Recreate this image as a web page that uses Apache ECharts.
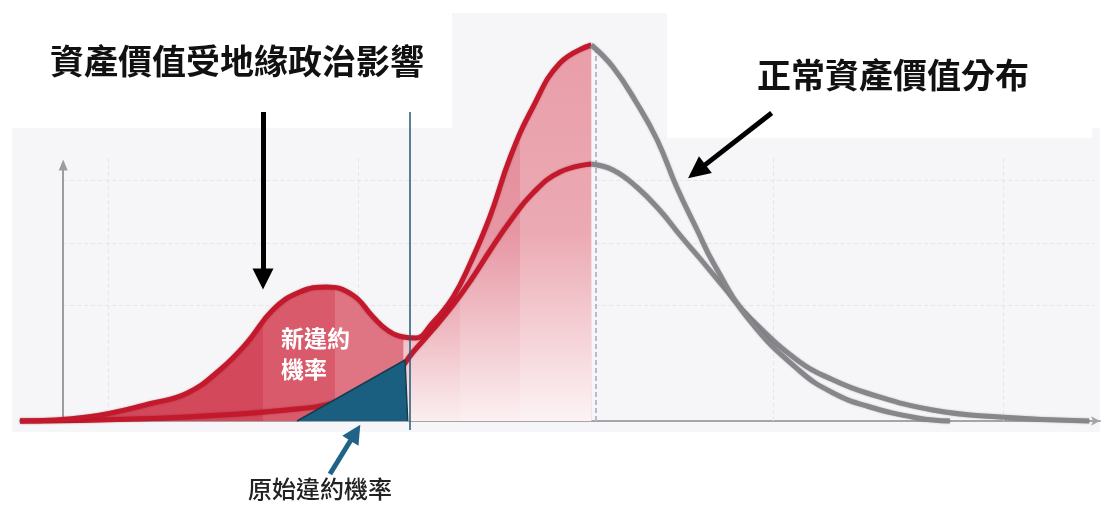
<!DOCTYPE html>
<html>
<head>
<meta charset="utf-8">
<script src="https://cdn.jsdelivr.net/npm/echarts@6/dist/echarts.min.js"></script>
<style>
  html, body { margin: 0; background: #fff; }
  #chart { width: 1107px; height: 514px; }
</style>
</head>
<body>
<div id="chart"></div>
<script>
/* 資產價值分布示意圖 — 受地緣政治衝擊(雙峰) vs 正常分布 */

// 受衝擊後分布：峰值左側(紅)、右側(灰)
const stressedRise = [[-4, 0], [2.2, 1], [8.3, 4.5], [11.5, 7], [14.5, 12.75], [17, 19.5], [19.4, 27.75],
  [21.9, 32.25], [24.4, 33.5], [26.8, 31.5], [28.7, 26], [30, 22.75], [31.5, 21], [32.6, 20.75],
  [34.2, 24.5], [36.1, 31], [37.7, 39.5], [39.5, 51], [41.4, 66], [43.5, 78.5], [46, 89.5], [48.9, 94]];
const stressedFall = [[48.9, 94], [50.9, 88.5], [53.1, 79.5], [55, 70.25], [56.8, 58.5], [58.7, 47.75],
  [60.2, 39.5], [63.6, 25], [68.2, 12.5], [71.3, 7], [74.4, 3.75], [79.1, 0.75], [82.1, 0]];

// 正常資產價值分布
const normalRise = [[-4, 0], [3.4, 0.25], [11.5, 1], [20.7, 2.75], [25.4, 4.75], [30, 9.5], [32.4, 17.25],
  [34.2, 22.75], [36.1, 29], [37.7, 35], [39.5, 42.5], [41.4, 50], [43.5, 57], [46, 62.25], [48.9, 64.25]];
const normalFall = [[48.9, 64.25], [50.9, 62.75], [53.1, 58.5], [55.3, 52.5], [57.1, 46.5], [59, 40.5],
  [61.3, 33], [63.6, 25.75], [68.2, 14.75], [71.3, 10.25], [74.4, 7], [80.5, 2.75], [86.7, 1], [95, 0]];

// 原始違約機率 (藍色三角)
const originalDefault = [[21.65, 0], [31.65, 15.25], [31.9, 0]];

// 格線位置 / 標註線
const gridYs = [29, 44.5, 60.25];
const gridXs = [4.15, 27.3, 65.7, 87];
const gridTop = 66.5;
const peakX = 49.3;
const thresholdX = 32.1;
const yAxisArrow = [[0, 0], [0, 64]];
const shockArrow = [[18.5, 77.25], [18.5, 35.5]];
const normalArrow = [[65.6, 77], [58.66, 62.4]];
const originalArrow = [[24.7, -13.25], [27.05, -2.93]];

// 填色分段 (x 位置) 與顏色
const bandEdges = [18.5, 25.2, 32.1, 36.7, 42.3];
const bandColors = ['#d3485a', '#d85a6b', '#df7483', '#de7482', '#e38896', '#e99ea9'];

const chart = echarts.init(document.getElementById('chart'), null, { renderer: 'canvas' });

const xMin = -4, xMax = 96;
const fillStart = stressedRise[0][0], fillEnd = stressedRise[stressedRise.length - 1][0];
const stops = [];
bandColors.forEach((c, i) => {
  const a = i === 0 ? 0 : (bandEdges[i - 1] - fillStart) / (fillEnd - fillStart);
  const b = i === bandColors.length - 1 ? 1 : (bandEdges[i] - fillStart) / (fillEnd - fillStart);
  stops.push({ offset: a, color: c }, { offset: b, color: c });
});

const seg = (p, q, style, sym, size) => [
  { coord: p, symbol: 'none', lineStyle: style },
  { coord: q, symbol: sym || 'none', symbolSize: size || 0 }
];

const gridStyle = { color: '#e6e6ea', width: 1, type: [4, 3] };
const gridLines = [
  ...gridYs.map(y => seg([0, y], [95.5, y], gridStyle)),
  ...gridXs.map(x => seg([x, 0], [x, gridTop], gridStyle)),
  seg(yAxisArrow[0], yAxisArrow[1], { color: '#9c9ca2', width: 2, type: 'solid' }, 'triangle', [9, 11])
];

const redLine = { color: '#c4182c', width: 5, shadowColor: 'rgba(90,0,10,0.35)', shadowBlur: 2 };
const grayLine = { color: '#86868b', width: 5, shadowColor: 'rgba(40,40,40,0.3)', shadowBlur: 2 };
const SM = 0.45;

const option = {
  animation: false,
  grid: { left: 20, right: 7, top: 21, bottom: 33 },
  xAxis: {
    type: 'value', min: xMin, max: xMax,
    axisLine: { show: true, onZero: true, symbol: ['none', 'arrow'], symbolSize: [7, 9],
      lineStyle: { color: '#a4a4aa', width: 2 } },
    axisTick: { show: false }, axisLabel: { show: false }, splitLine: { show: false }
  },
  yAxis: {
    type: 'value', min: -15, max: 100,
    axisLine: { show: false }, axisTick: { show: false }, axisLabel: { show: false }, splitLine: { show: false }
  },
  graphic: [
    { type: 'rect', z: -10, shape: { x: 12, y: 128, width: 1088, height: 304 }, style: { fill: '#f6f6f8' } },
    { type: 'rect', z: -10, shape: { x: 452, y: 13, width: 215, height: 115 }, style: { fill: '#f6f6f8' } },
    { type: 'rect', z: -9, shape: { x: 667, y: 13, width: 425, height: 125 }, style: { fill: '#ffffff' } },
    { type: 'text', z: 100, x: 50, y: 61,
      style: { text: '資產價值受地緣政治影響', fill: '#111', verticalAlign: 'middle',
        font: 'bold 34px "Noto Sans CJK TC"' } },
    { type: 'text', z: 100, x: 757, y: 75,
      style: { text: '正常資產價值分布', fill: '#111', verticalAlign: 'middle',
        font: 'bold 34px "Noto Sans CJK TC"' } },
    { type: 'text', z: 100, x: 281, y: 338,
      style: { text: '新違約', fill: '#fff', verticalAlign: 'middle', font: 'bold 23px "Noto Sans CJK TC"' } },
    { type: 'text', z: 100, x: 281, y: 369,
      style: { text: '機率', fill: '#fff', verticalAlign: 'middle', font: 'bold 23px "Noto Sans CJK TC"' } },
    { type: 'text', z: 100, x: 248, y: 489,
      style: { text: '原始違約機率', fill: '#222', verticalAlign: 'middle', font: '500 24px "Noto Sans CJK TC"' } }
  ],
  series: [
    { // 格線 + y 軸箭頭 (置於填色之下)
      type: 'line', data: [], z: 1, silent: true,
      markLine: { z: 1, silent: true, animation: false, label: { show: false }, symbol: 'none', data: gridLines }
    },
    { // 雙峰分布填色
      name: 'stressedFill', type: 'line', data: stressedRise, smooth: SM,
      showSymbol: false, silent: true, z: 2, lineStyle: { opacity: 0 },
      areaStyle: { origin: 0, opacity: 1, color: new echarts.graphic.LinearGradient(0, 0, 1, 0, stops) }
    },
    { // 右側淡出
      name: 'fade', type: 'line', data: stressedRise.filter(p => p[0] >= 31.5), smooth: SM,
      showSymbol: false, silent: true, z: 3, lineStyle: { opacity: 0 },
      areaStyle: { origin: 0, opacity: 1, color: new echarts.graphic.LinearGradient(0, 0, 0, 1, [
        { offset: 0, color: 'rgba(255,255,255,0)' },
        { offset: 0.5, color: 'rgba(255,255,255,0.12)' },
        { offset: 1, color: 'rgba(255,255,255,0.88)' }
      ]) }
    },
    { name: 'normalRise', type: 'line', data: normalRise, smooth: SM,
      showSymbol: false, silent: true, z: 4, lineStyle: redLine,
      markLine: { z: 3, silent: true, animation: false, label: { show: false }, symbol: 'none', data: [
        seg([peakX, 0], [peakX, 94], { color: '#b7bacb', width: 2, type: [5, 3] })
      ] } },
    { name: 'normalFall', type: 'line', data: normalFall, smooth: SM,
      showSymbol: false, silent: true, z: 4, lineStyle: grayLine },
    { name: 'stressedRise', type: 'line', data: stressedRise, smooth: SM,
      showSymbol: false, silent: true, z: 5, lineStyle: redLine },
    { name: 'stressedFall', type: 'line', data: stressedFall, smooth: SM,
      showSymbol: false, silent: true, z: 5, lineStyle: grayLine },
    { // 原始違約機率
      name: 'original', type: 'line', data: originalDefault, showSymbol: false, silent: true, z: 6,
      lineStyle: { color: '#123e52', width: 1.5 },
      areaStyle: { origin: 0, color: '#1b5f80', opacity: 1 }
    },
    { // 門檻線與箭頭
      type: 'line', data: [], z: 8, silent: true,
      markLine: { z: 10, silent: true, animation: false, label: { show: false }, symbol: 'none', data: [
        seg([thresholdX, 77.25], [thresholdX, -2.25], { color: '#1f5a77', width: 1.5, type: 'solid' }),
        seg(shockArrow[0], shockArrow[1], { color: '#000', width: 5, type: 'solid' }, 'triangle', [21, 21]),
        seg(normalArrow[0], normalArrow[1], { color: '#000', width: 5, type: 'solid' }, 'triangle', [21, 22]),
        seg(originalArrow[0], originalArrow[1], { color: '#1f6487', width: 5, type: 'solid' }, 'triangle', [19, 19])
      ] }
    }
  ]
};

chart.setOption(option);
</script>
</body>
</html>
